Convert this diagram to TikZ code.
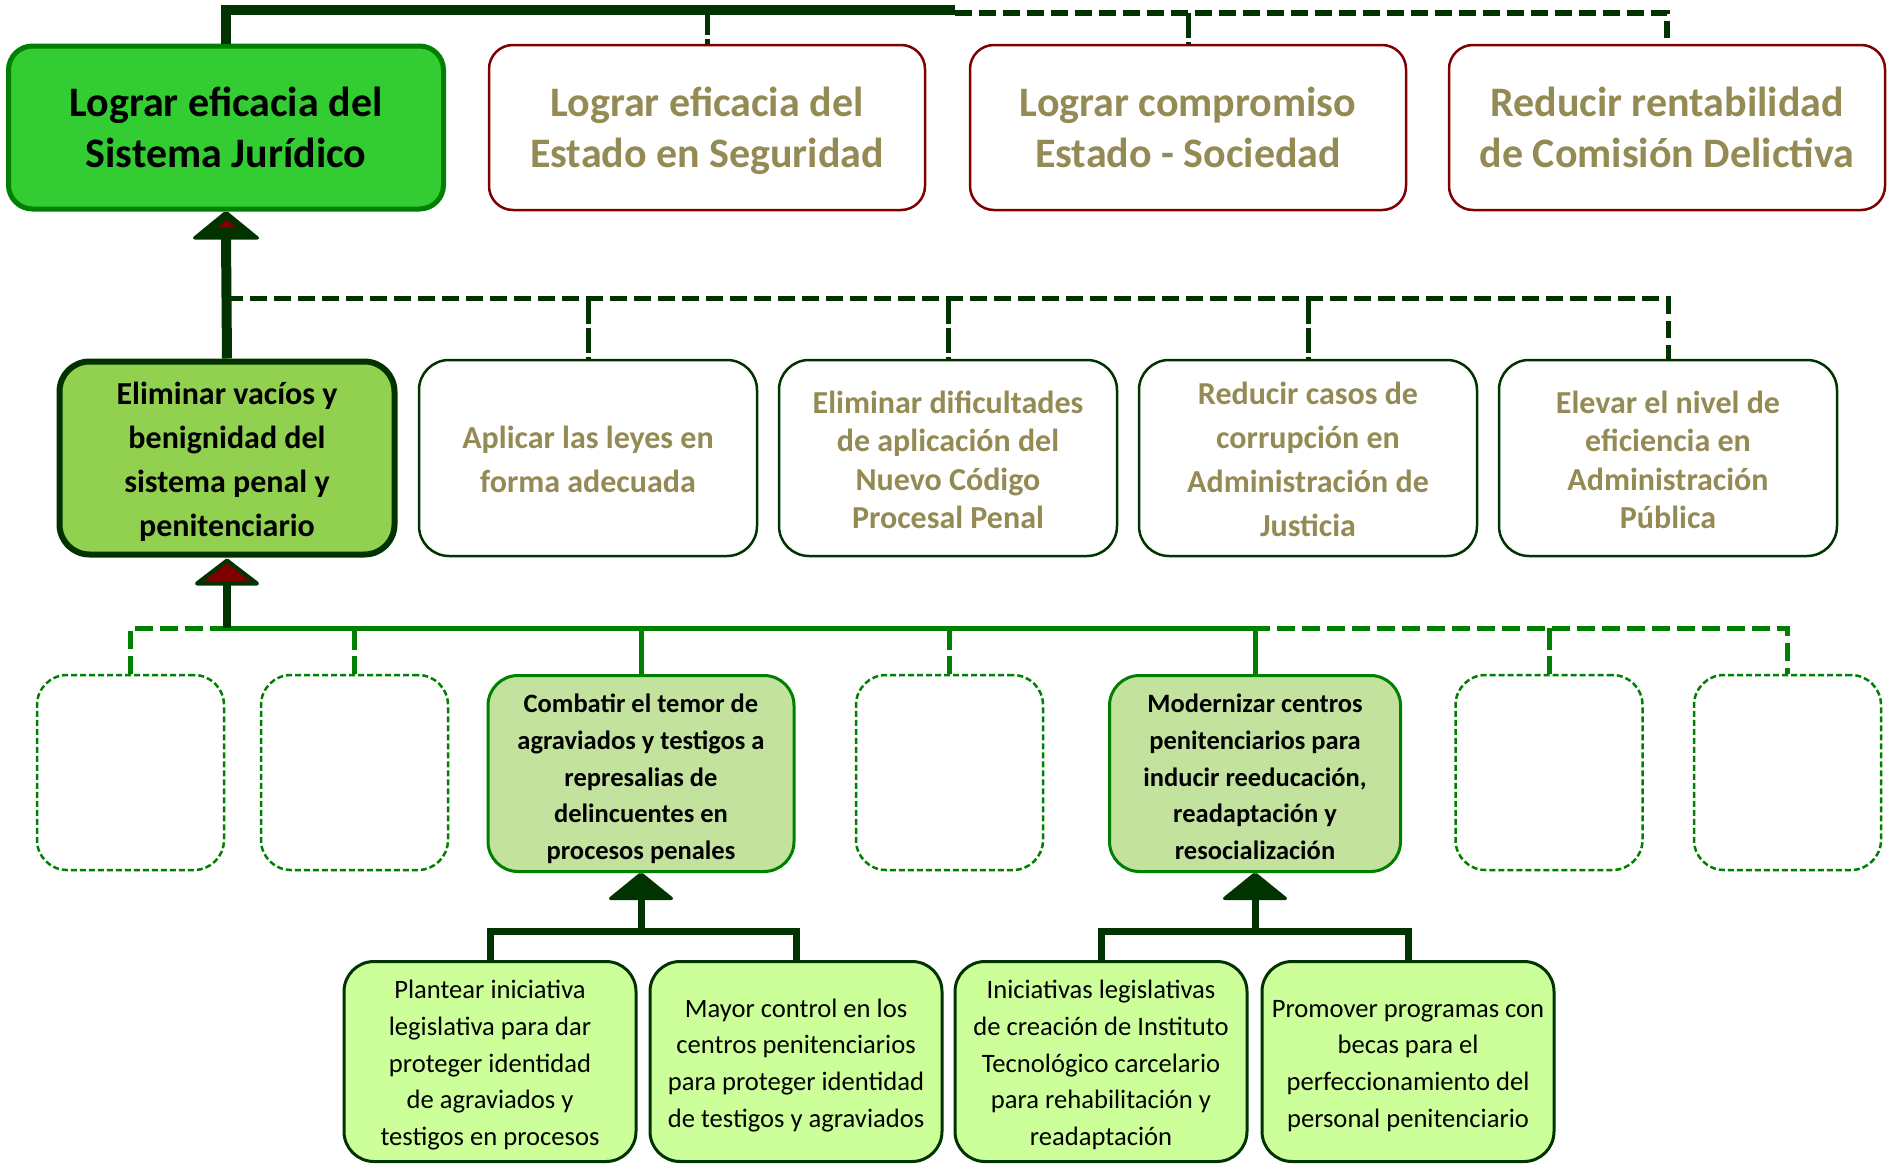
\documentclass[tikz,border=0pt]{standalone}
\usepackage{fontspec}
\setmainfont{Carlito}
\usetikzlibrary{calc}
\definecolor{dkg}{HTML}{003300}
\definecolor{gmid}{HTML}{008000}
\definecolor{gbright}{HTML}{33CC33}
\definecolor{dred}{HTML}{800000}
\definecolor{olivet}{HTML}{948A54}
\definecolor{gE}{HTML}{92D050}
\definecolor{gL}{HTML}{C3E29D}
\definecolor{gM}{HTML}{CCFF99}
\newcommand\mytop[1][1.2em]{\rule{0pt}{#1}}
\newcommand\mybot{\rule[-0.4em]{0pt}{0pt}}
\begin{document}
\begin{tikzpicture}[x=1pt,y=-1pt,
  base/.style={rectangle, inner sep=0pt, align=center},
  topg/.style={base, draw=gmid, line width=5pt, fill=gbright, rounded corners=24pt,
    minimum width=435pt, minimum height=163pt, font=\fontsize{42}{51}\selectfont\bfseries},
  topw/.style={base, draw=dred, line width=2.5pt, fill=white, rounded corners=24pt,
    minimum width=436pt, minimum height=165pt, text=olivet, font=\fontsize{42}{51}\selectfont\bfseries},
  twog/.style={base, draw=dkg, line width=6pt, fill=gE, rounded corners=30pt,
    minimum width=335pt, minimum height=193pt, font=\fontsize{32}{44}\selectfont\bfseries},
  twow/.style={base, draw=dkg, line width=2.5pt, fill=white, rounded corners=30pt,
    minimum width=338pt, minimum height=196pt, text=olivet, font=\fontsize{32}{44}\selectfont\bfseries},
  twotight/.style={font=\fontsize{32}{38.5}\selectfont\bfseries},
  threef/.style={base, draw=gmid, line width=3pt, fill=gL, rounded corners=30pt,
    minimum height=196pt, font=\fontsize{26.5}{36.7}\selectfont\bfseries},
  threed/.style={base, draw=gmid, line width=2.5pt, dash pattern=on 6pt off 3pt, fill=white,
    rounded corners=30pt, minimum width=187pt, minimum height=195pt},
  fourb/.style={base, draw=dkg, line width=3pt, fill=gM, rounded corners=30pt,
    minimum width=292pt, minimum height=200pt, font=\fontsize{26.6}{36.7}\selectfont},
  thickln/.style={draw=dkg, line width=10pt},
  dashtop/.style={draw=dkg, line width=6pt, dash pattern=on 17pt off 7pt},
  dropdk/.style={draw=dkg, line width=5pt, dash pattern=on 25pt off 4pt},
  greenbar/.style={draw=gmid, line width=5pt},
  greendash/.style={draw=gmid, line width=5pt, dash pattern=on 18pt off 7pt},
  greendrop/.style={draw=gmid, line width=5pt, dash pattern=on 22pt off 6pt},
  lnfour/.style={draw=dkg, line width=7pt},
  ahead/.style={fill=dkg, draw=dkg, line width=2pt, line join=round, rounded corners=2pt}
]
\useasboundingbox (0,0) rectangle (1888,1165);

% ---------- Level 1 ----------
\node[topg] (A) at (226,127.5) {\mytop[1.1em]Lograr eficacia del\\Sistema Jurídico\mybot};
\node[topw] (B) at (707,127.5) {\mytop[1.1em]Lograr eficacia del\\Estado en Seguridad\mybot};
\node[topw] (C) at (1188,127.5) {\mytop[1.1em]Lograr compromiso\\Estado - Sociedad\mybot};
\node[topw] (D) at (1667,127.5) {\mytop[1.1em]Reducir rentabilidad\\de Comisión Delictiva\mybot};

% ---------- Level 2 ----------
\node[twog] (E) at (227,458) {\mytop Eliminar vacíos y\\benignidad del\\sistema penal y\\penitenciario\mybot};
\node[twow] (F) at (588,458) {\mytop Aplicar las leyes en\\forma adecuada\mybot};
\node[twow,twotight] (G) at (948,458) {\mytop Eliminar dificultades\\de aplicación del\\Nuevo Código\\Procesal Penal\mybot};
\node[twow] (H) at (1308,458) {\mytop Reducir casos de\\corrupción en\\Administración de\\Justicia\mybot};
\node[twow,twotight] (I) at (1668,458) {\mytop Elevar el nivel de\\eficiencia en\\Administración\\Pública\mybot};

% ---------- Level 3 ----------
\node[threed] (L1) at (130.5,772.5) {};
\node[threed] (L2) at (354.5,772.5) {};
\node[threef, minimum width=306pt] (L3) at (641,773.5) {\mytop[1.35em]Combatir el temor de\\agraviados y testigos a\\represalias de\\delincuentes en\\procesos penales\mybot};
\node[threed] (L4) at (949.5,772.5) {};
\node[threef, minimum width=291pt] (L5) at (1255,773.5) {\mytop[1.35em]Modernizar centros\\penitenciarios para\\inducir reeducación,\\readaptación y\\resocialización\mybot};
\node[threed] (L6) at (1549,772.5) {};
\node[threed] (L7) at (1787.5,772.5) {};

% ---------- Level 4 ----------
\node[fourb] (M1) at (490,1061.5) {\mytop Plantear iniciativa\\legislativa para dar\\proteger identidad\\de agraviados y\\testigos en procesos\mybot};
\node[fourb] (M2) at (796,1061.5) {\mytop Mayor control en los\\centros penitenciarios\\para proteger identidad\\de testigos y agraviados\mybot};
\node[fourb] (M3) at (1101,1061.5) {\mytop Iniciativas legislativas\\de creación de Instituto\\Tecnológico carcelario\\para rehabilitación y\\readaptación\mybot};
\node[fourb] (M4) at (1408,1061.5) {\mytop Promover programas con\\becas para el\\perfeccionamiento del\\personal penitenciario\mybot};

% ---------- Top connectors ----------
\coordinate (topmid) at (955,10);
\coordinate (topdash) at (955,13);
\draw[thickln] (A.north) |- (topmid);
\draw[dashtop] (topdash) -| (D.north);
\draw[dropdk] (C.north |- topdash) -- (C.north);
\draw[dropdk] (B.north |- topmid) -- (B.north);

% ---------- Level 2 -> Level 1 ----------
\coordinate (bar2) at (226,298.6);
\draw[dashtop, line width=5pt] (bar2) -| (I.north);
\draw[dropdk] (F.north |- bar2) -- (F.north);
\draw[dropdk] (G.north |- bar2) -- (G.north);
\draw[dropdk] (H.north |- bar2) -- (H.north);
\draw[thickln] (E.north) -- ($(A.south)+(0,26)$);
\path[ahead] (A.south) -- ++(33,27) -- ++(-66,0) -- cycle;
\fill[dred] ($(A.south)+(1,8)$) -- ++(9,8) -- ++(-18,0) -- cycle;

% ---------- Level 3 -> Level 2 ----------
\coordinate (bar3) at (227,628);
\draw[greendash] (L1.north) |- (bar3);
\draw[greendash] (bar3) -| (L7.north);
\draw[greendrop] (L2.north |- bar3) -- (L2.north);
\draw[greendrop] (L4.north |- bar3) -- (L4.north);
\draw[greendrop] (L6.north |- bar3) -- (L6.north);
\draw[greenbar] (bar3) -| (L5.north);
\draw[greenbar] (L3.north |- bar3) -- (L3.north);
\draw[draw=dkg, line width=8pt] (bar3) -- ($(E.south)+(0,24)$);
\filldraw[fill=dred, draw=dkg, line width=4pt, line join=round] ($(E.south)+(0,3)$) -- ++(30,23) -- ++(-60,0) -- cycle;

% ---------- Level 4 -> Level 3 ----------
\coordinate (bar4a) at (641,931);
\coordinate (bar4b) at (1255,931);
\draw[lnfour] (M1.north) |- (bar4a) -| (M2.north);
\draw[lnfour] (M3.north) |- (bar4b) -| (M4.north);
\draw[lnfour] (bar4a) -- ($(L3.south)+(0,26)$);
\draw[lnfour] (bar4b) -- ($(L5.south)+(0,26)$);
\path[ahead] (L3.south) -- ++(32,26) -- ++(-64,0) -- cycle;
\path[ahead] (L5.south) -- ++(32,26) -- ++(-64,0) -- cycle;
\end{tikzpicture}
\end{document}
